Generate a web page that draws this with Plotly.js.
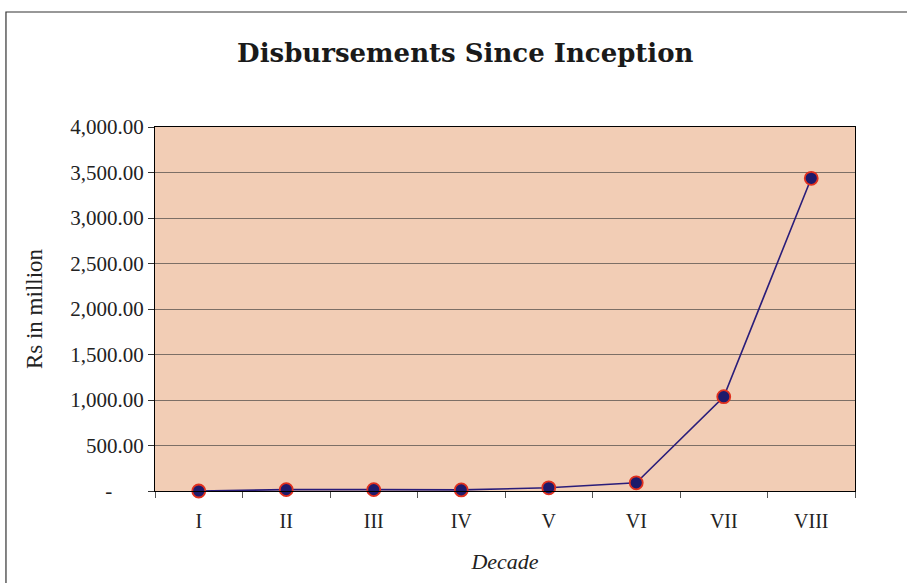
<!DOCTYPE html>
<html>
<head>
<meta charset="utf-8">
<script src="https://cdn.plot.ly/plotly-3.0.1.min.js"></script>
<style>html,body{margin:0;padding:0;background:#fff;}#chart{width:907px;height:583px;}</style>
</head>
<body>
<div id="chart"></div>
<script>
const decades = ["I", "II", "III", "IV", "V", "VI", "VII", "VIII"];
const disbursements = [0, 15, 15, 12, 35, 90, 1036, 3436];
const yTickValues = [0, 500, 1000, 1500, 2000, 2500, 3000, 3500, 4000];
const yTickLabels = ["-\u00a0\u00a0\u00a0\u00a0\u00a0\u00a0", "500.00", "1,000.00", "1,500.00", "2,000.00", "2,500.00", "3,000.00", "3,500.00", "4,000.00"];

const serif = "'Liberation Serif', 'Times New Roman', serif";
const trace = {
  x: decades,
  y: disbursements,
  type: "scatter",
  mode: "lines+markers",
  line: {color: "#2a1d7a", width: 1.6},
  marker: {size: 13, color: "#1e1a6b", line: {color: "#e0301e", width: 1.8}},
  cliponaxis: false,
  hoverinfo: "x+y"
};
const layout = {
  width: 907, height: 583,
  margin: {l: 155, r: 52, t: 127, b: 92},
  paper_bgcolor: "#ffffff",
  plot_bgcolor: "#f2cdb5",
  showlegend: false,
  title: {
    text: "<b>Disbursements Since Inception</b>",
    font: {family: "'Palatino Linotype', 'Book Antiqua', 'DejaVu Serif', serif", size: 26, color: "#1a1a1a"},
    x: 0.513, xanchor: "center", y: 0.91, yanchor: "middle"
  },
  xaxis: {
    type: "category",
    range: [-0.5, 7.5],
    showgrid: false,
    zeroline: false,
    showline: true, linecolor: "#000", linewidth: 1, mirror: true,
    ticks: "outside", tickson: "boundaries", ticklen: 6, tickcolor: "#555",
    ticklabelstandoff: 12,
    tickfont: {family: serif, size: 20, color: "#222"},
    title: {text: "<i>Decade</i>", font: {family: serif, size: 22, color: "#222"}, standoff: 22}
  },
  yaxis: {
    range: [0, 4000],
    tickvals: yTickValues,
    ticktext: yTickLabels,
    showgrid: true, gridcolor: "#7d6f66", gridwidth: 1,
    zeroline: false,
    showline: true, linecolor: "#000", linewidth: 1, mirror: true,
    ticks: "outside", ticklen: 6, tickcolor: "#333",
    tickfont: {family: serif, size: 21, color: "#222"},
    title: {text: "Rs in million", font: {family: serif, size: 23, color: "#222"}, standoff: 21}
  },
  shapes: [{
    type: "rect", xref: "paper", yref: "paper",
    x0: -0.2129, x1: 1.2, y0: -0.5, y1: 1.316,
    line: {color: "#333", width: 1.2}, fillcolor: "rgba(0,0,0,0)", layer: "below"
  }]
};
Plotly.newPlot("chart", [trace], layout, {displayModeBar: false, staticPlot: true});
</script>
</body>
</html>
